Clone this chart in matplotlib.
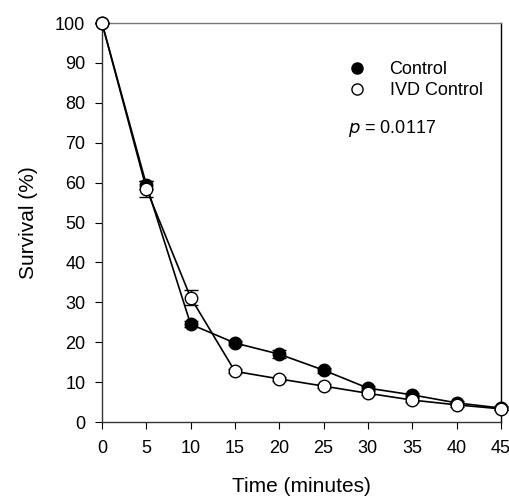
import numpy as np
import matplotlib
matplotlib.use("Agg")
import matplotlib.pyplot as plt
from matplotlib.lines import Line2D

plt.rcParams['font.family'] = ['Liberation Sans', 'DejaVu Sans']

time_min = [0, 5, 10, 15, 20, 25, 30, 35, 40, 45]
control = [100, 59.5, 24.5, 19.8, 17.0, 13.0, 8.5, 6.8, 4.8, 3.5]
control_err = [0, 1.0, 0.8, 0.6, 1.0, 0.6, 0.6, 0.5, 0.5, 0.4]
ivd = [100, 58.5, 31.2, 12.7, 10.8, 9.0, 7.2, 5.5, 4.3, 3.3]
ivd_err = [0, 2.0, 1.8, 0.5, 0.5, 0.5, 0.5, 0.5, 0.5, 0.4]

fig = plt.figure(figsize=(5.1, 4.98), dpi=100)
ax = fig.add_axes([0.2, 0.1526, 0.782, 0.8012])

for y, err, fc, z in [(control, control_err, 'black', 3),
                      (ivd, ivd_err, 'white', 4)]:
    cont = ax.errorbar(time_min, y, yerr=err, color='black', lw=1.2,
                       marker='o', ms=9, mfc=fc, mec='black', mew=1,
                       capsize=5, elinewidth=1, capthick=1, zorder=z)
    cont[0].set_clip_on(False)
    for art in cont[1] + cont[2]:
        art.set_clip_on(False)

ax.set_xlim(0, 45)
ax.set_ylim(0, 100)
ax.set_xticks(np.arange(0, 46, 5))
ax.set_yticks(np.arange(0, 101, 10))
ax.tick_params(direction='out', length=5, labelsize=13, top=False, right=False)
ax.tick_params(axis='x', pad=8)
ax.tick_params(axis='y', pad=7)
for s in ax.spines.values():
    s.set_linewidth(1)
ax.spines['top'].set_color('#777777')
ax.spines['left'].set_color('#333333')
ax.spines['bottom'].set_color('#333333')

ax.set_xlabel('Time (minutes)', fontsize=15, labelpad=14)
ax.set_ylabel('Survival (%)', fontsize=15, labelpad=12)

proxies = [Line2D([], [], ls='none', marker='o', ms=8, mfc='black', mec='black'),
           Line2D([], [], ls='none', marker='o', ms=8, mfc='white', mec='black')]
ax.legend(proxies, ['Control', 'IVD Control'], loc='upper left',
          bbox_to_anchor=(0.617, 0.905), frameon=False, fontsize=13,
          handletextpad=1.3, labelspacing=0.25, handlelength=1.0,
          borderaxespad=0, borderpad=0)
ax.text(0.618, 0.735, r'$p$ = 0.0117', transform=ax.transAxes, fontsize=13,
        va='center')

fig.savefig('out.png', dpi=100)
